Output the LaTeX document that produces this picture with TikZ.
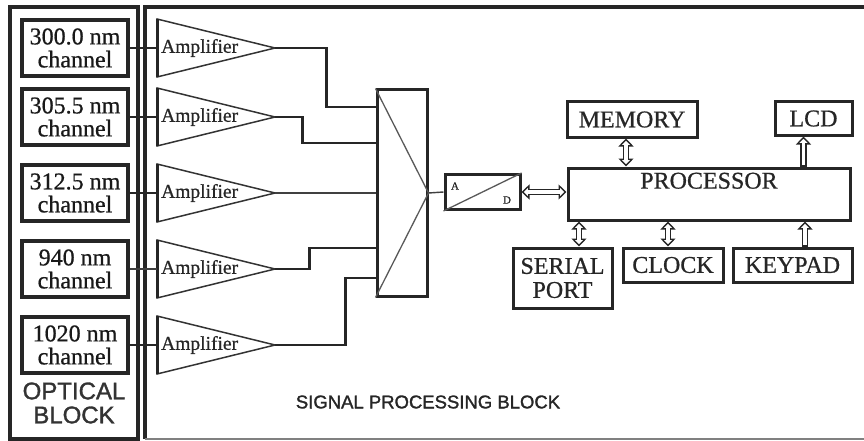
\documentclass[tikz,border=0pt]{standalone}
\usepackage{fontspec}
\setmainfont{Liberation Serif}[FakeBold=0.7]
\newfontfamily\blocksans{Liberation Sans}[FakeBold=1.4]
\usetikzlibrary{arrows.meta}
\newcommand\hollowlink[4]{% #1 tips, #2 start, #3 end, #4 white shortening at start
  \draw[line width=6.5pt, draw=black!85, #1] #2 -- #3;
  \draw[line width=3.6pt, draw=white, shorten <=#4, shorten >=6.8pt] #2 -- #3;}
\begin{document}
\begin{tikzpicture}[x=1pt,y=-1pt,
  frame/.style={draw=black!85, line width=3.2pt},
  chbox/.style={draw=black!85, line width=4pt, minimum width=106pt, minimum height=56pt, inner sep=0pt, align=center, text=black!90, font=\fontsize{24}{23}\selectfont},
  pbox/.style={draw=black!85, line width=3pt, inner sep=0pt, align=center, text=black!85, font=\fontsize{24}{24}\selectfont},
  amptri/.style={draw=black!80, line width=1.5pt, line join=miter},
  ampbase/.style={draw=black!85, line width=3pt},
  amptext/.style={anchor=west, inner sep=0pt, text=black!85, font=\fontsize{19.5}{19.5}\selectfont},
  wire/.style={draw=black!85, line width=2.8pt},
  thinwire/.style={draw=black!75, line width=1.4pt},
  diag/.style={draw=black!65, line width=1.3pt},
  tipend/.tip={Triangle[open, fill=white, line width'=1.4pt, length=8pt, width=15pt]},
  blocklabel/.style={align=center, text=black!80, font=\blocksans\fontsize{24}{24}\selectfont},
  smalltext/.style={inner sep=0pt, text=black!85, font=\fontsize{11}{11}\selectfont}
]
\useasboundingbox (0,0) rectangle (864,441);
\fill[white] (0,0) rectangle (864,441);

% frames
\draw[frame] (10,7) rectangle (138,439);
\draw[frame] (866,7) -- (145,7) -- (145,439);
\draw[draw=black!50, line width=1.8pt] (145,439) -- (866,439);

% channel boxes
\node[chbox] (ch1) at (75,48)  {300.0 nm\\channel};
\node[chbox] (ch2) at (75,117) {305.5 nm\\channel};
\node[chbox] (ch3) at (75,193) {312.5 nm\\channel};
\node[chbox] (ch4) at (75,269) {940 nm\\channel};
\node[chbox] (ch5) at (75,345) {1020 nm\\channel};
\node[blocklabel] (optlbl) at (74,403) {OPTICAL\\BLOCK};

% amplifiers
\foreach \i/\y in {1/48,2/117,3/193,4/269,5/345}{
  \draw[amptri] (157,\y-29) -- (275,\y) -- (157,\y+29) -- cycle;
  \draw[ampbase] (157,\y-29) -- (157,\y+29);
  \coordinate (in\i) at (157,\y);
  \coordinate (o\i) at (275,\y);
  \node[amptext] (amp\i) at (161,\y) {Amplifier};
}
\draw[wire] (ch1.east) -- (in1);
\draw[wire] (ch2.east) -- (in2);
\draw[wire] (ch3.east) -- (in3);
\draw[thinwire] (ch4.east) -- (in4);
\draw[wire] (ch5.east) -- (in5);

% multiplexer
\node[draw=black!85, line width=3pt, minimum width=50pt, minimum height=206pt, inner sep=0pt] (mux) at (402,193) {};
\draw[diag] (mux.north west) -- (mux.east) -- (mux.south west);
\coordinate (m1) at ([yshift=86pt]mux.west);
\coordinate (m2) at ([yshift=50pt]mux.west);
\coordinate (m3) at (mux.west);
\coordinate (m4) at ([yshift=-55pt]mux.west);
\coordinate (m5) at ([yshift=-85pt]mux.west);

\draw[wire] (o1) -| ([xshift=-49pt]m1) -- (m1);
\draw[wire] (o2) -| ([xshift=-73pt]m2) -- (m2);
\draw[thinwire] (o3) -- (m3);
\draw[wire] (o4) -| ([xshift=-66pt]m4) -- (m4);
\draw[wire] (o5) -| ([xshift=-30pt]m5) -- (m5);

% ADC
\node[draw=black!85, line width=3pt, minimum width=75pt, minimum height=35pt, inner sep=0pt] (adc) at (482.5,192) {};
\draw[diag] (adc.south west) -- (adc.north east);
\node[smalltext] (adcA) at (455,186) {A};
\node[smalltext] (adcD) at (507,200) {D};
\draw[thinwire] (mux.east) -- (adc.west);

% processor and peripherals
\node[pbox, minimum width=282pt, minimum height=52pt,
      label={[anchor=north, inner sep=0pt, yshift=-6pt, text=black!85, font=\fontsize{24}{24}\selectfont]north:PROCESSOR}] (proc) at (709,194) {};
\node[pbox, minimum width=130pt, minimum height=35pt] (mem) at (632,119.5) {MEMORY};
\node[pbox, minimum width=77pt, minimum height=33pt] (lcd) at (813.5,118.5) {LCD};
\node[pbox, minimum width=99pt, minimum height=60pt] (serial) at (562.5,278) {SERIAL\\PORT};
\node[pbox, minimum width=100pt, minimum height=34pt] (clock) at (673,265) {CLOCK};
\node[pbox, minimum width=119pt, minimum height=34pt] (keypad) at (792.5,265) {KEYPAD};

\hollowlink{tipend-tipend}{(adc.east)}{(adc.east -| proc.west)}{6.8pt}
\hollowlink{tipend-tipend}{([xshift=-6pt]mem.south)}{([xshift=-6pt]mem.south |- proc.north)}{6.8pt}
\hollowlink{-tipend}{([xshift=-10pt]lcd.south |- proc.north)}{([xshift=-10pt]lcd.south)}{1.6pt}
\hollowlink{tipend-tipend}{([xshift=16.5pt]serial.north)}{([xshift=16.5pt]serial.north |- proc.south)}{6.8pt}
\hollowlink{tipend-tipend}{([xshift=-5pt]clock.north)}{([xshift=-5pt]clock.north |- proc.south)}{6.8pt}
\hollowlink{-tipend}{([xshift=12.5pt]keypad.north)}{([xshift=12.5pt]keypad.north |- proc.south)}{1.6pt}

\node[text=black!85, font=\blocksans\fontsize{18.5}{18.5}\selectfont] (splbl) at (428,402) {SIGNAL PROCESSING BLOCK};
\end{tikzpicture}
\end{document}
